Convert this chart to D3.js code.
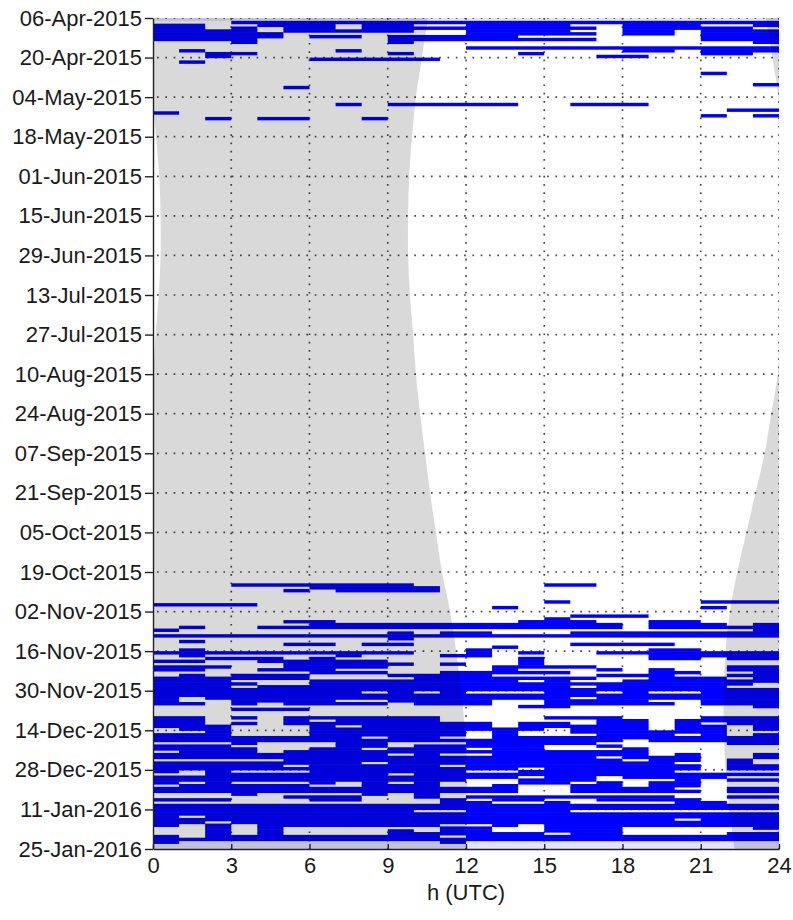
<!DOCTYPE html>
<html>
<head>
<meta charset="utf-8">
<script src="https://cdn.jsdelivr.net/npm/d3@7"></script>
<style>
  html, body { margin: 0; padding: 0; background: #ffffff; }
  svg { display: block; font-family: "Liberation Sans", Arial, sans-serif; }
</style>
</head>
<body>
<svg id="chart" width="793" height="920"></svg>
<script>
// ---- axis ticks ----
const hourTicks = [0, 3, 6, 9, 12, 15, 18, 21, 24];
const dateTickLabels = [
  "06-Apr-2015", "20-Apr-2015", "04-May-2015", "18-May-2015", "01-Jun-2015",
  "15-Jun-2015", "29-Jun-2015", "13-Jul-2015", "27-Jul-2015", "10-Aug-2015",
  "24-Aug-2015", "07-Sep-2015", "21-Sep-2015", "05-Oct-2015", "19-Oct-2015",
  "02-Nov-2015", "16-Nov-2015", "30-Nov-2015", "14-Dec-2015", "28-Dec-2015",
  "11-Jan-2016", "25-Jan-2016"
];

// ---- night (sunset -> sunrise) in hours UTC, sampled on the tick dates ----
const sunriseUTC = [10.54, 10.31, 10.08, 9.93, 9.82, 9.78, 9.78, 9.85, 9.97, 10.08, 10.24,
                    10.43, 10.62, 10.85, 11.08, 11.39, 11.62, 11.81, 11.96, 12.04, 12.04, 12.0];
const sunsetUTC  = [23.5, 23.75, 23.97, 24.12, 24.24, 24.29, 24.29, 24.22, 24.1, 23.95, 23.7,
                    23.45, 23.1, 22.75, 22.4, 22.12, 21.95, 21.88, 21.88, 21.95, 22.1, 22.3];

// ---- days whose records are only partly available ----
const partialDays = ["2015-04-06", "2016-01-22", "2016-01-23", "2016-01-24"];

// ---- hourly detections, one string per day, '#' = detected (groups of 3 h) ----
const springStart = "2015-04-06";
const springHours = [
  "... ... ... ... ... ... ... ...",
  "... ### ### ### ### ### ### ###",
  "##. .## #.# #.. ### #.. ### ..#",
  "##. #.# #.# ### ### ##. ### ##.",
  "### #.# ### #.. ### #.. ##. ###",
  "### ##. ... ... ### ##. ##. ###",
  "### ##. ##. ### ##. ... ... ###",
  "### #.. ... ### ### ##. ... ###",
  "... #.. ... #.. ... ... ... ..#",
  "... ... ... ... ... ... ... ...",
  "... ... ... ... ### ### ### ###",
  ".#. ... .#. ... ... ... ##. ###",
  "..# #.. ... #.. ..# ... ... ##.",
  "..# ... ... ... ... ..# #.. ...",
  "... ... ### ##. ... ... ... ...",
  ".#. ... ... ... ... ... ... ...",
  "... ... ... ... ... ... ... ...",
  "... ... ... ... ... ... ... ...",
  "... ... ... ... ... ... ... ...",
  "... ... ... ... ... ... ... #..",
  "... ... ... ... ... ... ... ...",
  "... ... ... ... ... ... ... ...",
  "... ... ... ... ... ... ... ...",
  "... ... ... ... ... ... ... ..#",
  "... ..# ... ... ... ... ... ...",
  "... ... ... ... ... ... ... ...",
  "... ... ... ... ... ... ... ...",
  "... ... ... ... ... ... ... ...",
  "... ... ... ... ... ... ... ...",
  "... ... ... ... ... ... ... ...",
  "... ... .#. ### ##. .## #.. ...",
  "... ... ... ... ... ... ... ...",
  "... ... ... ... ... ... ... .##",
  "#.. ... ... ... ... ... ... ...",
  "... ... ... ... ... ... ... #.#",
  "..# .## ..# ... ... ... ... ..."
];

const autumnStart = "2015-10-21";
const autumnHours = [
  "... ... ... ... ... ... ... ...",
  "... ... ... ... ... ... ... ...",
  "... ### ### #.. ... ##. ... ...",
  "... ... ### ##. ... ... ... ...",
  "... ..# .## ##. ... ... ... ...",
  "... ... ... ... ... ... ... ...",
  "... ... ... ... ... ... ... ...",
  "... ... ... ... ... ... ... ...",
  "... ... ... ... ... #.. ... ###",
  "### #.. ... ... ... ... ... ...",
  "... ... ... ... .#. ... ... #..",
  "... ... ... ... ... ... ... ...",
  "... ... ... ... ... ... ... ...",
  "... ... ... ... ... .## #.. ...",
  "... ... ... ... ... #.. ... ...",
  "... ..# #.. ... ..# ##. .## ...",
  "... ... ### ### ### ### .## #.#",
  ".#. .## ### ### ### ### .## ###",
  "#.. ... ... ... ... ... ... ..#",
  "... ... ... #.# #.. .## ### ###",
  "### ### ### ### ### ### ### ###",
  "... ... ... #.. ... ... ... ...",
  ".#. ... ... ... ... ... ... ...",
  "... ..# #.# #.. ... .## ##. ...",
  "... ... ... ... .#. ... ... ...",
  ".#. ... ... ... #.. ... .## ...",
  "### ### ### #.. #.# ..# ### ###",
  ".#. ... .#. ..# #.. ... .## ###",
  "..# ##. #.. ... ..# ... .## .##",
  "##. .## ### ... ..# ... ... ...",
  "... ..# ### #.# ..# ... ... ...",
  "### ..# ### ... .## ##. ... .##",
  "##. .## #.. ... .#. ..# .#. .##",
  "... ... ### ..# ### #.. .## ..#",
  ".#. ### ... ### #.. ..# ##. .##",
  "### ### ... .## ### ##. .## #.#",
  "### ... ### ### ##. #.. ### ###",
  "### #.. ### ### ### ### ### ##.",
  "### .## ### ### ### #.# ### #..",
  "### ### ### ### ### ### ### ###",
  "### ### ##. #.# ... ##. #.. ###",
  "### ### ### ### ### ### ### ###",
  "#.# ### ### ### ### #.# ### ###",
  "#.. ### #.. ### #.. ### #.. ###",
  "##. #.# ### .## #.. ### ##. ###",
  "... ... ... ... ..# #.. ... ..#",
  "... ### ... ... ... ... ... ...",
  "... ... ... ... ... ... ... ...",
  "... ... ... ... ... ... ... ...",
  "##. #.# ### ##. ... ### ... ###",
  "##. ..# .## ##. ... ..# #.# ###",
  "##. #.# ### ### #.# #.# #.# .##",
  "### ... #.# ### #.# ### #.# #.#",
  ".## ... ### ### ### .## #.# #.#",
  "..# ... ### ### .#. .## ### #..",
  "### ... ### ### .#. ..# ##. #.#",
  "### ### ##. ##. .## ### ### ###",
  "### ### ### ### ### ### .## ###",
  "... #.. .## ... ### ##. ... .##",
  "### ... .## .## ### ..# ... ...",
  "### #.. ##. ### .## ... #.. ...",
  ".## #.# ### ### ### ### #.. ...",
  "### ### ### .#. .## ### #.# ..#",
  "### ### ### ### ### ##. ### ..#",
  "... ..# ### ### ### ### .## .#.",
  "### ### ##. ### ### ### ##. .#.",
  "### ##. ### ##. ### ### ### .##",
  "### ### ### ### ##. ### ### .##",
  "#.# ... ### ### ..# ### ##. ...",
  "..# ### ### .## ### ### ### ###",
  "### ### ### ### ##. ##. ### #..",
  "### ### ### ### ..# ##. ..# .##",
  "#.# ... #.# .#. ..# #.# .## ...",
  ".## ### ..# ##. .#. .## .## ...",
  "### ### ### ### ##. .## ##. .##",
  "### ### ### ### ##. .## ### .##",
  "... #.. ..# .#. ... ... ... ...",
  "... ..# ##. .#. ### ### ##. .##",
  "### ... ##. ..# .## ..# ### ...",
  "... ... ... ..# #.. #.. ..# #..",
  "### ### ### ### ### ### ### ###",
  "### ### ### ### ### ### ### ###",
  "### ### ### #.. ### #.. ... ...",
  "### ### ### ### ### ### ### ###",
  "#.# ### ### ### ### ### ### ###",
  "### ### ### ### ### ### ##. ###",
  "##. ### ### ### ### ### ### ###",
  "#.# .## ### ##. .#. ### ### ###",
  "..# .#. ... ..# #.. ### ... ..#",
  "..# .#. ... #.# #.. ### ... ...",
  "..# .#. ... ### ### .## ... .##",
  "#.# ### ### ##. ### ### ### ###",
  "### ### ### ### ### ### ### ###",
  "#.. ... ... ..# ... ... ... ..."
];

// ---- layout ----
const width = 793, height = 920;
const plot = { left: 153, right: 779, top: 18, bottom: 849 };

const parseTick = d3.utcParse("%d-%b-%Y");
const parseIso = d3.utcParse("%Y-%m-%d");
const tickDates = dateTickLabels.map(parseTick);

const x = d3.scaleLinear().domain([0, 24]).range([plot.left, plot.right]);
const y = d3.scaleUtc()
  .domain([tickDates[0], tickDates[tickDates.length - 1]])
  .range([plot.top, plot.bottom]);

const svg = d3.select("#chart");
svg.append("rect").attr("width", width).attr("height", height).attr("fill", "#ffffff");

svg.append("defs").append("clipPath").attr("id", "plot-clip")
  .append("rect")
  .attr("x", plot.left).attr("y", plot.top)
  .attr("width", plot.right - plot.left).attr("height", plot.bottom - plot.top);

const body = svg.append("g").attr("clip-path", "url(#plot-clip)");

// dotted grid
const grid = body.append("g")
  .attr("stroke", "#4a4a4a").attr("stroke-width", 1.7)
  .attr("stroke-dasharray", "1.7 6.6").attr("fill", "none");
grid.selectAll("line.h").data(tickDates.slice(0, -1)).join("line")
  .attr("class", "h")
  .attr("x1", plot.left + 4).attr("x2", plot.right)
  .attr("y1", d => y(d)).attr("y2", d => y(d));
grid.selectAll("line.v").data(hourTicks.slice(1)).join("line")
  .attr("class", "v")
  .attr("x1", d => x(d)).attr("x2", d => x(d))
  .attr("y1", plot.top).attr("y2", plot.bottom);

// hourly detection segments
function toSegments(startStr, rows) {
  const start = parseIso(startStr);
  const segs = [];
  rows.forEach((row, i) => {
    const bits = row.replace(/ /g, "");
    const d0 = d3.utcDay.offset(start, i);
    const d1 = d3.utcDay.offset(start, i + 1);
    let h = 0;
    while (h < 24) {
      if (bits[h] === "#") {
        let e = h;
        while (e < 24 && bits[e] === "#") e++;
        segs.push({ d0, d1, h0: h, h1: e });
        h = e;
      } else {
        h++;
      }
    }
  });
  return segs;
}
const segments = toSegments(springStart, springHours).concat(toSegments(autumnStart, autumnHours));

body.append("g").attr("fill", "#0000ff")
  .selectAll("rect").data(segments).join("rect")
  .attr("x", d => x(d.h0))
  .attr("width", d => x(d.h1) - x(d.h0))
  .attr("y", d => y(d.d0))
  .attr("height", d => y(d.d1) - y(d.d0) + 0.6);

// partly available days
body.append("g").attr("fill", "#0000ff").attr("fill-opacity", 0.1)
  .selectAll("rect").data(partialDays.map(parseIso)).join("rect")
  .attr("x", plot.left).attr("width", plot.right - plot.left)
  .attr("y", d => y(d))
  .attr("height", d => y(d3.utcDay.offset(d, 1)) - y(d) + 0.3);

// night-time shading (multiplied over the detections)
const night = tickDates.map((d, i) => ({ date: d, rise: sunriseUTC[i], set: sunsetUTC[i] }));
const nightLeft = d3.area().curve(d3.curveCatmullRom)
  .y(d => y(d.date))
  .x0(d => x(Math.max(0, d.set - 24)))
  .x1(d => x(d.rise));
const nightRight = d3.area().curve(d3.curveCatmullRom)
  .y(d => y(d.date))
  .x0(d => x(Math.min(24, d.set)))
  .x1(() => x(24) + 2);
const shade = body.append("g").style("mix-blend-mode", "multiply");
shade.append("path").attr("d", nightLeft(night)).attr("fill", "#d9d9d9");
shade.append("path").attr("d", nightRight(night)).attr("fill", "#d9d9d9");

// axes
const yAxis = d3.axisLeft(y)
  .tickValues(tickDates)
  .tickFormat((d, i) => dateTickLabels[i])
  .tickSize(8).tickSizeOuter(0).tickPadding(3);
const gy = svg.append("g").attr("transform", `translate(${plot.left},0)`).call(yAxis);

const xAxis = d3.axisBottom(x)
  .tickValues(hourTicks)
  .tickFormat(d3.format("d"))
  .tickSize(-5).tickSizeOuter(0).tickPadding(8);
const gx = svg.append("g").attr("transform", `translate(0,${plot.bottom})`).call(xAxis);

[gx, gy].forEach(g => {
  g.select(".domain").attr("stroke", "#222").attr("stroke-width", 1.4);
  g.selectAll(".tick line").attr("stroke", "#222").attr("stroke-width", 1.4);
  g.selectAll(".tick text")
    .attr("fill", "#1a1a1a")
    .style("font-family", "'Liberation Sans', Arial, sans-serif")
    .style("font-size", "22px");
});

svg.append("text")
  .attr("x", x(12)).attr("y", 900)
  .attr("text-anchor", "middle")
  .attr("fill", "#1a1a1a")
  .style("font-size", "22px")
  .text("h (UTC)");
</script>
</body>
</html>
